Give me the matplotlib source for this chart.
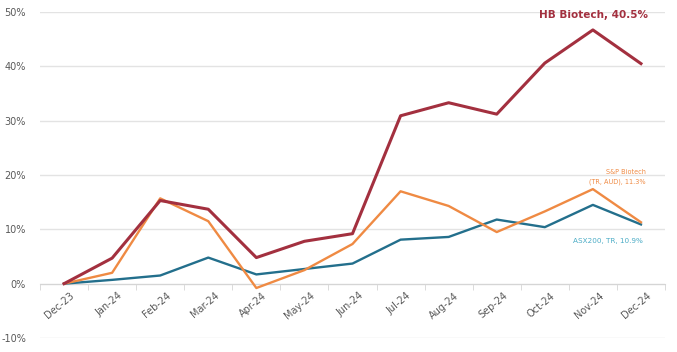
import matplotlib.pyplot as plt
import matplotlib.ticker as mticker
from matplotlib.transforms import ScaledTranslation

months = ['Dec-23', 'Jan-24', 'Feb-24', 'Mar-24', 'Apr-24', 'May-24', 'Jun-24',
          'Jul-24', 'Aug-24', 'Sep-24', 'Oct-24', 'Nov-24', 'Dec-24']
hb_biotech = [0, 4.7, 15.3, 13.7, 4.8, 7.8, 9.2, 30.9, 33.3, 31.2, 40.6, 46.7, 40.5]
sp_biotech = [0, 2.0, 15.7, 11.5, -0.8, 2.5, 7.3, 17.0, 14.3, 9.5, 13.3, 17.4, 11.3]
asx200 = [0, 0.7, 1.5, 4.8, 1.7, 2.7, 3.7, 8.1, 8.6, 11.8, 10.4, 14.5, 10.9]

red = '#A3303F'
orange = '#EF8A43'
blue = '#236F8C'

fig = plt.figure(figsize=(6.77, 3.52), dpi=100)
ax = fig.add_axes([40 / 677, 14 / 352, 625 / 677, 326 / 352])

x = list(range(len(months)))
ax.plot(x, asx200, color=blue, lw=1.7, zorder=3)
ax.plot(x, sp_biotech, color=orange, lw=1.7, zorder=4)
ax.plot(x, hb_biotech, color=red, lw=2.2, zorder=5)

ax.set_xlim(-0.5, len(months) - 0.5)
ax.set_ylim(-10, 50)
ax.yaxis.set_major_locator(mticker.MultipleLocator(10))
ax.yaxis.set_major_formatter(mticker.FuncFormatter(lambda v, p: f'{v:.0f}%'))
ax.grid(axis='y', color='#E3E3E3', lw=1.0)
ax.set_axisbelow(True)

for s in ['top', 'right', 'left']:
    ax.spines[s].set_visible(False)
ax.spines['bottom'].set_position(('data', 0))
ax.spines['bottom'].set_color('#D5D5D5')

ax.set_xticks(x)
ax.set_xticklabels(months, rotation=40, ha='right', rotation_mode='anchor',
                   fontsize=7, color='#595959')
ax.tick_params(axis='x', which='major', length=0, pad=5)
shift = ScaledTranslation(6 / 100, 0, fig.dpi_scale_trans)
for lbl in ax.get_xticklabels():
    lbl.set_transform(lbl.get_transform() + shift)
ax.set_xticks([i - 0.5 for i in range(len(months) + 1)], minor=True)
ax.tick_params(axis='x', which='minor', length=4, color='#D5D5D5')
ax.tick_params(axis='y', length=0, labelsize=7, labelcolor='#595959', pad=10)

ax.text(12.15, 49.4, 'HB Biotech, 40.5%', color=red, fontsize=7.5,
        fontweight='bold', ha='right', va='center')
ax.text(12.1, 19.6, 'S&P Biotech\n(TR, AUD), 11.3%', color=orange, fontsize=4.7,
        ha='right', va='center', linespacing=1.6)
ax.text(12.05, 7.9, 'ASX200, TR, 10.9%', color='#4BACC6', fontsize=5.2,
        ha='right', va='center')

fig.savefig('out.png', dpi=100)
